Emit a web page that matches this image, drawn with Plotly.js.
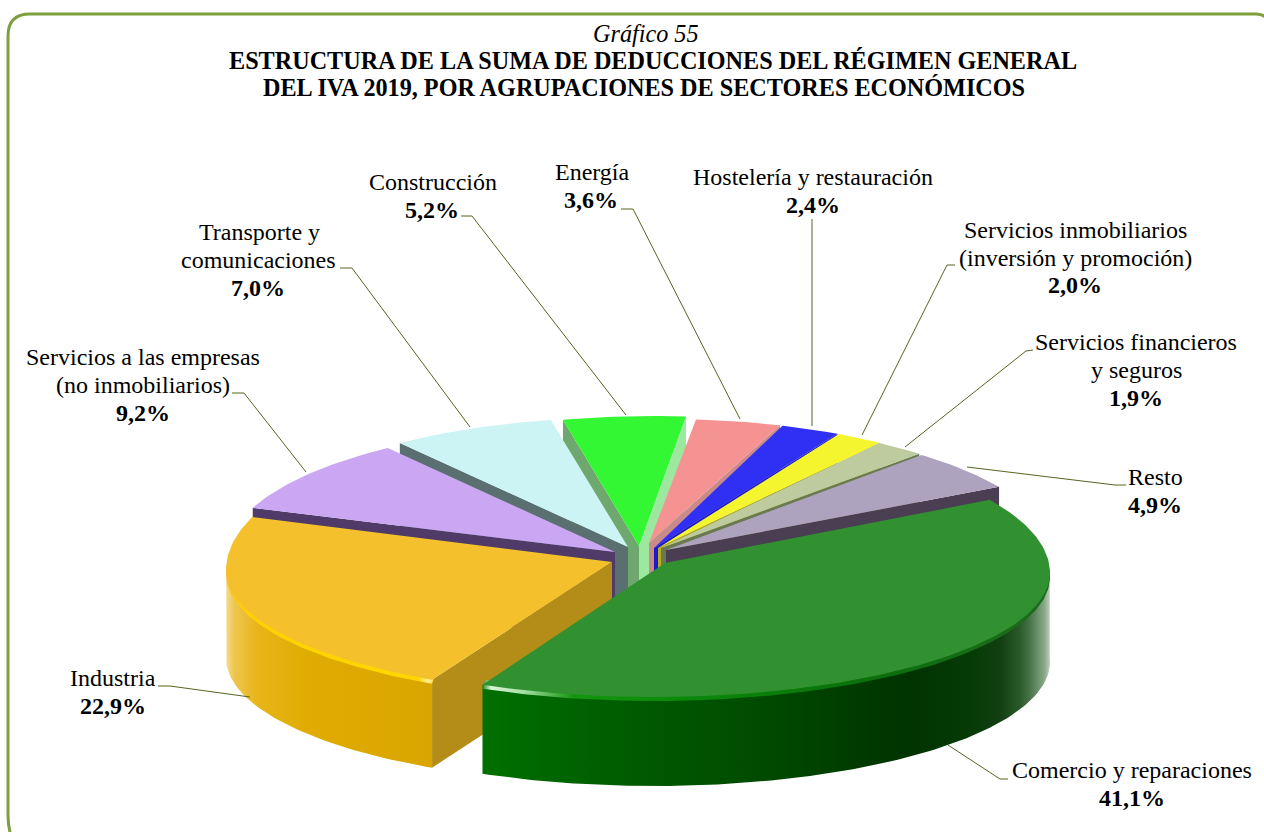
<!DOCTYPE html>
<html><head><meta charset="utf-8">
<script src="https://cdn.plot.ly/plotly-3.0.1.min.js"></script>
<style>html,body{margin:0;padding:0;background:#fff}#chart{width:1264px;height:832px}</style>
</head><body><div id="chart"></div>
<script>
// ---- data
const categories = ["Comercio y reparaciones","Industria","Servicios a las empresas (no inmobiliarios)","Transporte y comunicaciones","Construcción","Energía","Hostelería y restauración","Servicios inmobiliarios (inversión y promoción)","Servicios financieros y seguros","Resto"];
const shares = [41.1,22.9,9.2,7.0,5.2,3.6,2.4,2.0,1.9,4.9];

// ---- colours
const topColors = ["#319131","#f4c12d","#cba6f3","#ccf4f4","#33f733","#f59292","#3030f5","#f5f52f","#bdcb9f","#aea3bf"];
const wallColors = ["#005c00","#b38d18","#4f3a68","#5a7070","#6ea86f","#c98a8a","#1a1ac8","#b5ad20","#6a7a50","#4a3f52"];

// ---- projection of each exploded slice (pixels of the hidden axes)
const startAngle = 58;
const depth = 88;
const angleShift = [0,3,3,3,0,0,0,0,0,0];
const centerX = [654,622,617,622,654,664,662,670,647,670];
const centerY = [573,570,555.5,550.6,549,552,560,563,568,560];
const radiusX = [396,396,390,378,380,380,395,380,420,388];
const radiusBack = [138,148,133,133,133,133,141,144,150,138];
const radiusFront = [124,125,133,133,133,133,141,144,150,138];
const apexX = [665,612,615,628,639,649,654,658,661,666];
const apexY = [563,562,552,547,546,543,548,548,548,550];
const paintOrder = [4,5,6,7,8,9,3,2,1,0];

// ---- texts
const titleLines = [
 {text:"<i>Gráfico 55</i>",x:645,y:33},
 {text:"<b>ESTRUCTURA DE LA SUMA DE DEDUCCIONES DEL RÉGIMEN GENERAL</b>",x:653,y:60},
 {text:"<b>DEL IVA 2019, POR AGRUPACIONES DE SECTORES ECONÓMICOS</b>",x:643.5,y:87}];
const labelLines = [
 ["Comercio y reparaciones",1132,770],["<b>41,1%</b>",1132,798],
 ["Industria",113,678],["<b>22,9%</b>",113,706],
 ["Servicios a las empresas",143,357],["(no inmobiliarios)",143,385],["<b>9,2%</b>",143,413],
 ["Transporte y",259,232],["comunicaciones",258,260],["<b>7,0%</b>",258,288],
 ["Construcción",433,182],["<b>5,2%</b>",432,210],
 ["Energía",592,172],["<b>3,6%</b>",591,200],
 ["Hostelería y restauración",813,177],["<b>2,4%</b>",813,205],
 ["Servicios inmobiliarios",1075,230],["(inversión y promoción)",1075,258],["<b>2,0%</b>",1075,285],
 ["Servicios financieros",1136,342],["y seguros",1136,370],["<b>1,9%</b>",1136,398],
 ["Resto",1155,477],["<b>4,9%</b>",1155,505]];
const leaderX = [[948,1000,1008],[250,170,158],[306,244,232],[470,352,340],[626,472,461],[740,633,621],[812,812],[862,947,955],[905,1026,1033],[967,1115,1126]];
const leaderY = [[745,779,779],[697,686,686],[472,393,393],[427,268,268],[415,216,216],[419,209,209],[426,219],[435,265,265],[447,351,350],[467,485,485]];

// ---- geometry derived from the shares
const total = shares.reduce((a,b)=>a+b,0);
const rad = d=>d*Math.PI/180;
let acc = startAngle;
const from = [], to = [];
shares.forEach((s,i)=>{from.push(acc+angleShift[i]); acc += s/total*360; to.push(acc+angleShift[i]);});
function rim(i,deg,dy,scale){
  const c=Math.cos(rad(deg)), s=Math.sin(rad(deg)), k=scale||1;
  return [centerX[i]+k*radiusX[i]*s, centerY[i]-k*c*(c>0?radiusBack[i]:radiusFront[i])+(dy||0)];
}
function arc(i,a,b,dy,scale){
  const xs=[],ys=[],n=Math.max(4,Math.ceil(Math.abs(b-a)));
  for(let k=0;k<=n;k++){const p=rim(i,a+(b-a)*k/n,dy,scale);xs.push(p[0]);ys.push(p[1]);}
  return [xs,ys];
}
function poly(xs,ys,color,extra){
  return Object.assign({type:"scatter",mode:"lines",x:xs,y:ys,fill:"toself",fillcolor:color,line:{width:0},hoverinfo:"skip",showlegend:false},extra||{});
}
function radialWall(i,deg,color){
  const p=rim(i,deg);
  return poly([p[0],apexX[i],apexX[i],p[0],p[0]],[p[1],apexY[i],apexY[i]+depth,p[1]+depth,p[1]],color);
}
function topFace(i){
  const a=arc(i,from[i],to[i]);
  return poly([apexX[i]].concat(a[0],[apexX[i]]),[apexY[i]].concat(a[1],[apexY[i]]),topColors[i],{
    name:categories[i],hoverinfo:"text",text:categories[i]+": "+shares[i]+"%",hoveron:"fills"});
}
function band(i,a,b,dyTop,dyBottom,scale,stops){
  const t=arc(i,a,b,dyTop,scale), u=arc(i,a,b,dyBottom,1);
  const xs=t[0].concat(u[0].slice().reverse(),[t[0][0]]);
  const ys=t[1].concat(u[1].slice().reverse(),[t[1][0]]);
  return poly(xs,ys,stops[0][1],{fillgradient:{type:"horizontal",colorscale:stops}});
}
const traces=[];
paintOrder.forEach(i=>{
  if(i===4){ traces.push(radialWall(i,to[i],"#9de89f")); traces.push(radialWall(i,from[i],wallColors[i])); }
  else if(i>=5){ traces.push(radialWall(i,to[i],wallColors[i])); }
  else if(i>=1){ traces.push(radialWall(i,from[i],wallColors[i])); }
  if(i===1){
    traces.push(band(1,from[1],272,0,depth,1,[[0,"#f3dc92"],[0.04,"#eec64f"],[0.15,"#e8b51a"],[0.4,"#e0ab02"],[1,"#d9a500"]]));
    traces.push(band(1,from[1],285,-3,4,0.985,[[0,"#f4c12d"],[0.1,"#ffd000"],[0.92,"#ffd800"],[0.97,"#fff0a0"],[1,"#ffd800"]]));
  }
  if(i===0){
    traces.push(band(0,88,to[0],0,depth+1,1,[[0,"#007000"],[0.25,"#005c00"],[0.5,"#004a00"],[0.75,"#003300"],[0.86,"#063a06"],[0.912,"#123f12"],[0.947,"#2a5a2a"],[0.965,"#4a754a"],[0.99,"#88a888"],[1,"#c0d0c0"]]));
    traces.push(band(0,60,to[0],-3,4,0.985,[[0,"#1f8f1f"],[0.015,"#d8f5d8"],[0.07,"#a8e0a8"],[0.16,"#15960f"],[0.35,"#0a8a0a"],[0.7,"#0b6f0b"],[1,"#1f6a1f"]]));
  }
  traces.push(topFace(i));
});
leaderX.forEach((xs,i)=>traces.push({type:"scatter",mode:"lines",x:xs,y:leaderY[i],line:{color:"#55651f",width:1},hoverinfo:"skip",showlegend:false}));

const serif="'Liberation Serif','Times New Roman',serif";
const annotations=[];
titleLines.forEach(l=>annotations.push({text:l.text,x:l.x,y:l.y,xref:"x",yref:"y",showarrow:false,xanchor:"center",yanchor:"middle",font:{family:serif,size:24.2,color:"#000"}}));
labelLines.forEach(l=>annotations.push({text:l[0],x:l[1],y:l[2],xref:"x",yref:"y",showarrow:false,xanchor:"center",yanchor:"middle",font:{family:serif,size:24,color:"#000"}}));

const hiddenAxis={visible:false,showgrid:false,zeroline:false,fixedrange:true};
const layout={width:1264,height:832,margin:{l:0,r:0,t:0,b:0},paper_bgcolor:"#fff",plot_bgcolor:"#fff",showlegend:false,
 xaxis:Object.assign({range:[0,1264]},hiddenAxis),
 yaxis:Object.assign({range:[832,0]},hiddenAxis),
 annotations,
 shapes:[{type:"path",xref:"x",yref:"y",layer:"below",line:{color:"#7f9f3f",width:3},
   path:"M 11 836 Q 8 826 8 815 L 8 36 Q 8 14 30 14 L 1256 14 Q 1263 14 1266 18"}]};
Plotly.newPlot("chart",traces,layout,{displayModeBar:false});
</script></body></html>
